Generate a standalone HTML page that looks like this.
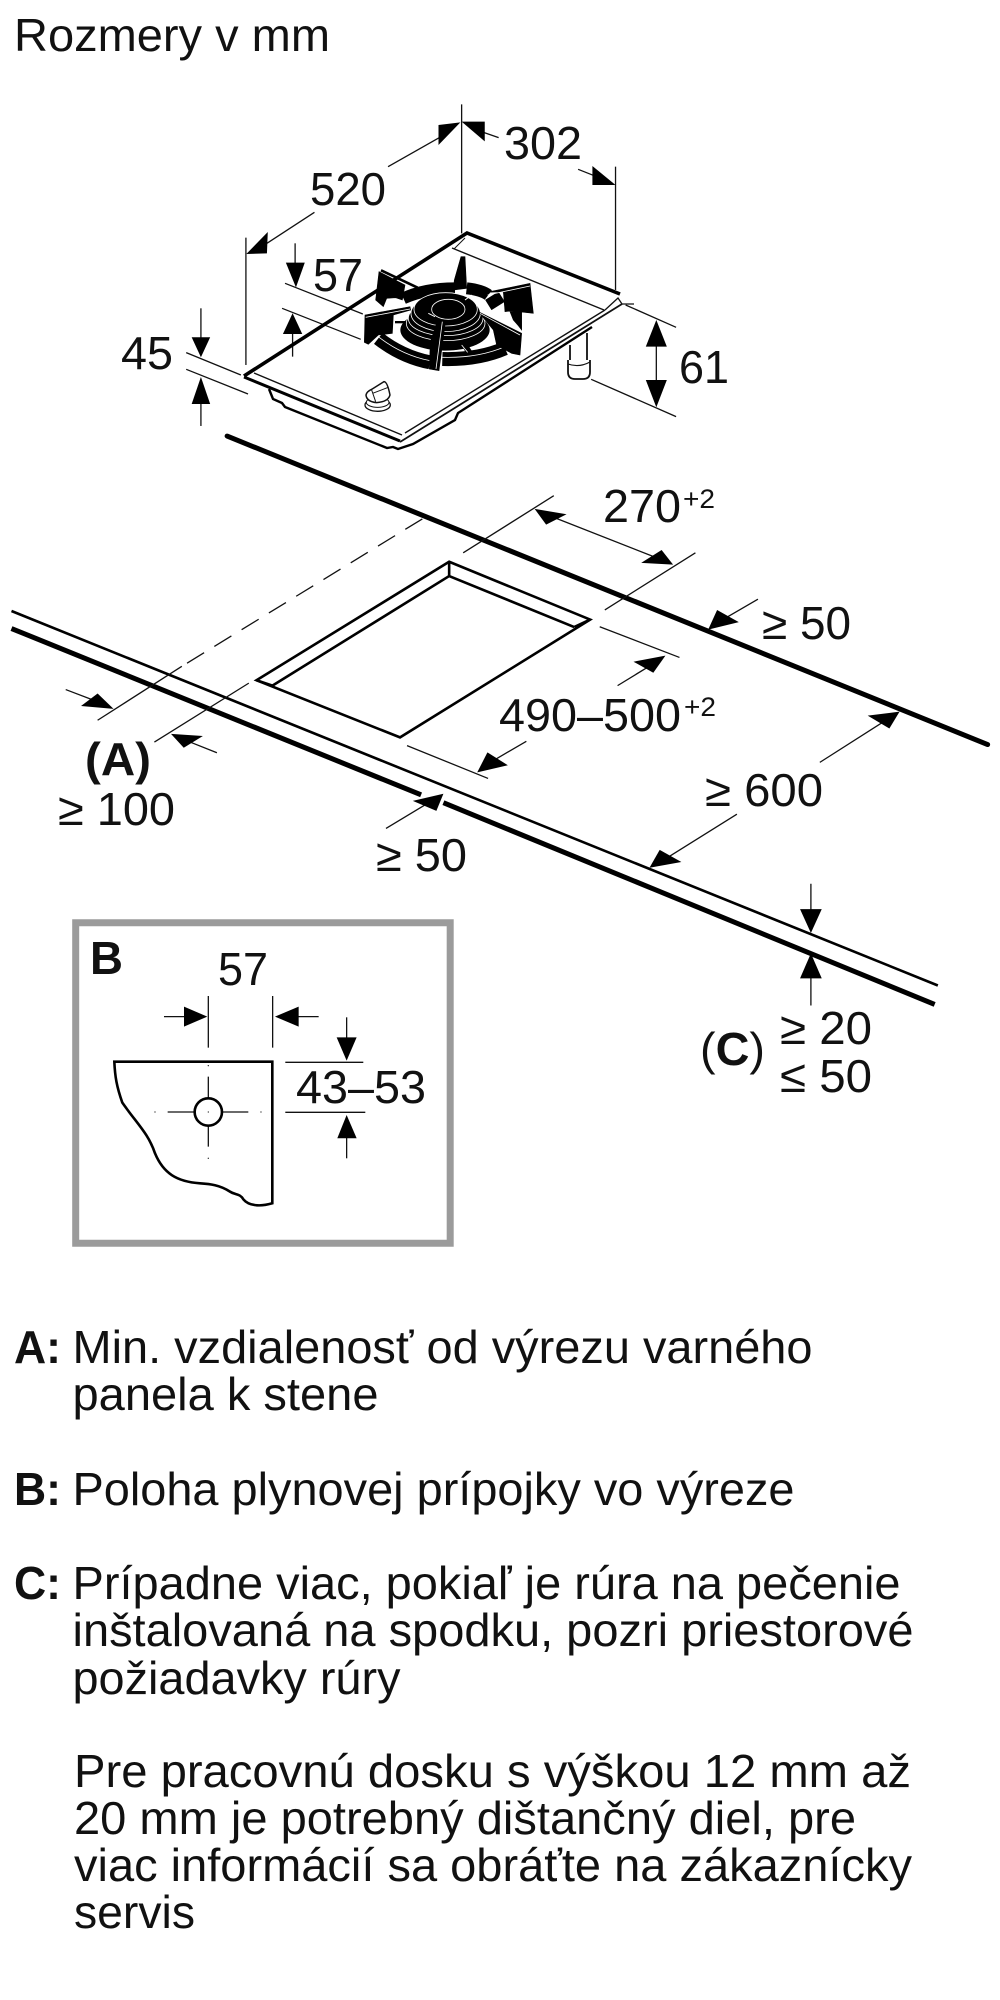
<!DOCTYPE html>
<html lang="sk"><head><meta charset="utf-8"><title>Rozmery v mm</title>
<style>
html,body{margin:0;padding:0;background:#fff}
svg{display:block}
text{font-family:"Liberation Sans",sans-serif;font-size:46px;fill:#111}
.b{font-weight:bold}
.s{font-size:27px}
line,polyline,path,polygon,ellipse,circle,rect{vector-effect:non-scaling-stroke}
.t line,.t polyline,.t path{stroke:#111;stroke-width:1.3;fill:none}
.a polygon{fill:#000;stroke:none}
.k polygon{fill:#000;stroke:#000;stroke-width:.6}
.e ellipse{fill:#000;stroke:#fff;stroke-width:.8}
</style></head><body>
<svg width="1000" height="2000" viewBox="0 0 1000 2000" xmlns="http://www.w3.org/2000/svg">
<rect width="1000" height="2000" fill="#fff"/>

<!-- Hob dims -->
<g transform="translate(100,90) scale(0.4205,0.3333)">
 <g class="t">
  <line x1="860" y1="43" x2="860" y2="430"/><line x1="347" y1="443" x2="347" y2="825"/><line x1="1226" y1="230" x2="1226" y2="600"/>
  <line x1="685" y1="230" x2="825" y2="130"/><line x1="397" y1="460" x2="510" y2="367"/>
  <line x1="900" y1="122" x2="948" y2="143"/><line x1="1137" y1="238" x2="1185" y2="262"/>
  <line x1="440" y1="580" x2="625" y2="672"/><line x1="433" y1="655" x2="620" y2="748"/>
  <line x1="464" y1="460" x2="464" y2="530"/><line x1="458" y1="720" x2="458" y2="800"/>
  <line x1="205" y1="788" x2="335" y2="855"/><line x1="205" y1="838" x2="352" y2="912"/>
  <line x1="240" y1="655" x2="240" y2="750"/><line x1="240" y1="930" x2="240" y2="1008"/>
  <line x1="1250" y1="645" x2="1370" y2="712"/><line x1="1168" y1="868" x2="1370" y2="980"/>
  <line x1="1323" y1="760" x2="1323" y2="880"/>
 </g>
 <g class="a">
  <polygon points="857,97 805,105 805,165"/><polygon points="348,492 397,490 399,426"/>
  <polygon points="860,95 915,95 915,154"/><polygon points="1226,285 1171,285 1171,228"/>
  <polygon points="442,518 487,518 466,592"/><polygon points="458,670 435,732 481,732"/>
  <polygon points="218,742 262,742 240,802"/><polygon points="240,861 218,942 262,942"/>
  <polygon points="1323,690 1298,770 1348,770"/><polygon points="1323,952 1298,870 1348,870"/>
 </g>
</g>

<!-- Hob body (page coordinates) -->
<polyline points="269,389 273,399 282,403 285,407 387,448 393,447 398,449 413,444 455,420 458,413 592,327" fill="none" stroke="#000" stroke-width="2.4"/>
<polyline points="244,376 467,233 620,294" fill="none" stroke="#000" stroke-width="3.6"/>
<line x1="244" y1="377" x2="400" y2="441" stroke="#000" stroke-width="3"/>
<line x1="254" y1="373" x2="402" y2="435" stroke="#111" stroke-width="1.4"/>
<line x1="400" y1="442" x2="622" y2="304" stroke="#111" stroke-width="1.8"/>
<line x1="405" y1="433" x2="605" y2="310" stroke="#111" stroke-width="1.4"/>
<line x1="452" y1="248" x2="604" y2="310" stroke="#111" stroke-width="1.4"/>
<polyline points="454,249 465,238" fill="none" stroke="#111" stroke-width="1"/>
<polyline points="605,310 618,298 622,304 634,304" fill="none" stroke="#111" stroke-width="1.3"/>
<!-- pipe -->
<path d="M570,345 V362 M587,333 V362" fill="none" stroke="#111" stroke-width="1.8"/>
<path d="M568,360 V372 Q568,379 575,379 H583 Q590,379 590,372 V360" fill="#fff" stroke="#111" stroke-width="1.8"/>
<path d="M568,364 Q579,368 590,362" fill="none" stroke="#111" stroke-width="1.1"/>

<!-- Knob, crop coordinates -->
<g transform="translate(230,360) scale(0.3333)">
 <ellipse cx="443" cy="135" rx="38" ry="19" fill="#fff" stroke="#111" stroke-width="1.3"/>
 <ellipse cx="443" cy="127" rx="34" ry="15" fill="#fff" stroke="#111" stroke-width="1"/>
 <path d="M408,105 Q410,95 425,88 L462,65 Q472,65 480,105 Q475,125 440,128 Q410,125 408,105 Z" fill="#fff" stroke="#111" stroke-width="1.5"/>
 <path d="M425,90 L437,125 M428,100 L475,82" fill="none" stroke="#111" stroke-width="1"/>
</g>

<!-- Burner, crop coordinates -->
<g transform="translate(355,255) scale(0.3333)">
 <path d="M70,250 Q140,305 225,322 M262,312 Q370,315 450,280" fill="none" stroke="#000" stroke-width="14"/>
 <path d="M70,250 Q140,305 225,322 M262,312 Q370,315 450,280" fill="none" stroke="#fff" stroke-width=".8" transform="translate(0,-5)"/>
 <path d="M145,130 Q210,100 300,100 M335,100 Q380,105 400,120 M400,150 L440,125" fill="none" stroke="#000" stroke-width="12"/>
 <path d="M120,198 H150 V205 H120 Z" fill="#000"/>
 <g class="e">
  <ellipse cx="270" cy="225" rx="134" ry="62" style="stroke:none"/>
  <ellipse cx="272" cy="205" rx="118" ry="52"/>
  <ellipse cx="272" cy="190" rx="112" ry="52"/>
  <ellipse cx="272" cy="175" rx="104" ry="55"/>
  <ellipse cx="272" cy="163" rx="95" ry="50"/>
  <ellipse cx="280" cy="163" rx="50" ry="30"/>
 </g>
 <path d="M330,135 L350,120 M220,175 L240,185" fill="none" stroke="#fff" stroke-width="1"/>
 <polygon points="320,270 338,268 352,290 335,298" fill="#000"/>
 <path d="M320,270 L338,292" fill="none" stroke="#fff" stroke-width=".8"/>
 <g class="k">
  <polygon points="72,50 150,90 142,135 122,128 95,130 85,155 62,135"/>
  <polygon points="30,180 165,155 167,165 115,180 112,235 70,240 40,268 28,262"/>
  <polygon points="295,105 298,75 318,5 330,5 335,100"/>
  <polygon points="395,112 525,85 535,175 470,168 450,170 445,110"/>
  <polygon points="465,170 500,168 500,225 490,212 475,195"/>
  <polygon points="370,170 500,235 495,300 470,295 425,270 415,225"/>
  <polygon points="248,195 272,195 252,347 223,342 226,260"/>
 </g>
 <line x1="78" y1="46" x2="188" y2="98" stroke="#000" stroke-width="2.6"/>
 <path d="M32,187 L165,162 M398,120 L525,93 M375,175 L495,240 M262,200 L243,342" fill="none" stroke="#fff" stroke-width=".8"/>
</g>

<!-- Worktop -->
<g transform="translate(0,460) scale(0.638,0.357)">
 <line x1="18" y1="472" x2="660" y2="938" stroke="#000" stroke-width="5"/>
 <line x1="695" y1="960" x2="1465" y2="1525" stroke="#000" stroke-width="5"/>
 <line x1="18" y1="423" x2="1470" y2="1472" stroke="#000" stroke-width="2.6"/>
 <line x1="356" y1="-67" x2="1548" y2="797" stroke="#000" stroke-width="5" stroke-linecap="round"/>
 <g fill="none" stroke="#000" stroke-width="2.6">
  <polygon points="704,285 925,447 627,777 402,617"/>
  <polyline points="427,632 704,325 900,468"/>
  <line x1="704" y1="285" x2="704" y2="325"/>
  <line x1="925" y1="447" x2="900" y2="468"/>
  <line x1="402" y1="617" x2="427" y2="632"/>
 </g>
 <line x1="662" y1="165" x2="285" y2="578" stroke="#111" stroke-width="1.3" stroke-dasharray="20 12"/>
 <g class="t">
  <line x1="285" y1="578" x2="153" y2="729"/><line x1="390" y1="625" x2="242" y2="790"/>
  <line x1="868" y1="100" x2="726" y2="260"/><line x1="1090" y1="260" x2="948" y2="420"/>
  <line x1="860" y1="155" x2="1035" y2="278"/>
  <line x1="1188" y1="390" x2="1130" y2="450"/>
  <line x1="940" y1="467" x2="1065" y2="553"/><line x1="968" y1="632" x2="1020" y2="575"/>
  <line x1="638" y1="800" x2="765" y2="892"/><line x1="825" y1="788" x2="775" y2="840"/>
  <line x1="1285" y1="847" x2="1385" y2="733"/><line x1="1155" y1="992" x2="1045" y2="1115"/>
  <line x1="103" y1="643" x2="150" y2="675"/><line x1="340" y1="820" x2="295" y2="788"/>
  <line x1="605" y1="1032" x2="670" y2="962"/>
  <line x1="1271" y1="1187" x2="1271" y2="1265"/><line x1="1271" y1="1445" x2="1271" y2="1528"/>
 </g>
 <g class="a">
  <polygon points="838,137 888,152 856,181"/><polygon points="1055,293 1005,288 1037,252"/>
  <polygon points="1110,475 1158,454 1124,420"/>
  <polygon points="1043,548 1024,596 993,565"/><polygon points="748,875 796,855 764,819"/>
  <polygon points="1410,705 1394,752 1360,716"/><polygon points="1018,1142 1068,1126 1034,1092"/>
  <polygon points="178,697 127,689 153,654"/><polygon points="268,767 318,773 288,806"/>
  <polygon points="695,935 684,983 647,955"/>
  <polygon points="1271,1325 1254,1258 1288,1258"/><polygon points="1271,1382 1254,1452 1288,1452"/>
 </g>
</g>

<!-- Box B -->
<rect x="75.7" y="922.7" width="374.5" height="320.5" fill="none" stroke="#9b9b9b" stroke-width="7"/>
<g transform="translate(60,910) scale(0.3333)">
 <g class="t">
  <line x1="445" y1="258" x2="445" y2="413"/><line x1="638" y1="258" x2="638" y2="413"/>
  <line x1="312" y1="320" x2="375" y2="320"/><line x1="712" y1="320" x2="776" y2="320"/>
  <line x1="676" y1="457" x2="910" y2="457"/><line x1="676" y1="607" x2="916" y2="607"/>
  <line x1="860" y1="322" x2="860" y2="385"/><line x1="860" y1="682" x2="860" y2="745"/>
  <line x1="445" y1="500" x2="445" y2="710"/><line x1="323" y1="606" x2="565" y2="606"/>
 </g>
 <g class="a">
  <polygon points="372,290 442,320 372,350"/><polygon points="645,320 716,290 716,350"/>
  <polygon points="830,382 890,382 860,452"/><polygon points="860,615 832,685 890,685"/>
 </g>
 <path d="M163,455 L637,455 L637,880 C610,888 570,892 550,868 C540,850 525,855 510,845 C480,825 450,822 420,820 C350,815 310,790 285,730 C265,670 230,640 187,578 C170,530 165,500 163,455 Z" fill="none" stroke="#000" stroke-width="2.6"/>
 <circle cx="445" cy="606" r="41" fill="#fff" stroke="#000" stroke-width="2.6"/>
 <g fill="#222">
  <circle cx="445" cy="467" r="2"/><circle cx="445" cy="745" r="2"/><circle cx="285" cy="606" r="2"/><circle cx="603" cy="606" r="2"/><circle cx="445" cy="606" r="2"/>
 </g>
</g>

<!-- Labels -->
<text x="14" y="51" textLength="316" lengthAdjust="spacingAndGlyphs">Rozmery v mm</text>
<text x="504" y="159" textLength="78" lengthAdjust="spacingAndGlyphs">302</text>
<text x="310" y="205" textLength="76" lengthAdjust="spacingAndGlyphs">520</text>
<text x="313" y="291" textLength="50" lengthAdjust="spacingAndGlyphs">57</text>
<text x="121" y="369" textLength="52" lengthAdjust="spacingAndGlyphs">45</text>
<text x="679" y="383" textLength="50" lengthAdjust="spacingAndGlyphs">61</text>
<text x="603" y="522" textLength="78" lengthAdjust="spacingAndGlyphs">270</text>
<text class="s" x="683" y="508" textLength="32" lengthAdjust="spacingAndGlyphs">+2</text>
<text x="762" y="639" textLength="89" lengthAdjust="spacingAndGlyphs">≥ 50</text>
<text x="499" y="731" textLength="182" lengthAdjust="spacingAndGlyphs">490–500</text>
<text class="s" x="684" y="716" textLength="32" lengthAdjust="spacingAndGlyphs">+2</text>
<text class="b" x="85" y="775" textLength="66" lengthAdjust="spacingAndGlyphs">(A)</text>
<text x="58" y="825" textLength="117" lengthAdjust="spacingAndGlyphs">≥ 100</text>
<text x="376" y="871" textLength="91" lengthAdjust="spacingAndGlyphs">≥ 50</text>
<text x="705" y="806" textLength="118" lengthAdjust="spacingAndGlyphs">≥ 600</text>
<text class="b" x="90" y="974" textLength="33" lengthAdjust="spacingAndGlyphs">B</text>
<text x="218" y="985" textLength="50" lengthAdjust="spacingAndGlyphs">57</text>
<text x="296" y="1103" textLength="130" lengthAdjust="spacingAndGlyphs">43–53</text>
<text x="700" y="1065" textLength="65" lengthAdjust="spacingAndGlyphs">(<tspan class="b">C</tspan>)</text>
<text x="780" y="1044" textLength="92" lengthAdjust="spacingAndGlyphs">≥ 20</text>
<text x="780" y="1092" textLength="92" lengthAdjust="spacingAndGlyphs">≤ 50</text>

<text class="b" x="14" y="1363" textLength="47" lengthAdjust="spacingAndGlyphs">A:</text>
<text x="72.5" y="1363" textLength="740" lengthAdjust="spacingAndGlyphs">Min. vzdialenosť od výrezu varného</text>
<text x="72.5" y="1410" textLength="306" lengthAdjust="spacingAndGlyphs">panela k stene</text>
<text class="b" x="14" y="1505" textLength="47" lengthAdjust="spacingAndGlyphs">B:</text>
<text x="72.5" y="1505" textLength="722" lengthAdjust="spacingAndGlyphs">Poloha plynovej prípojky vo výreze</text>
<text class="b" x="14" y="1599" textLength="47" lengthAdjust="spacingAndGlyphs">C:</text>
<text x="72.5" y="1599" textLength="828" lengthAdjust="spacingAndGlyphs">Prípadne viac, pokiaľ je rúra na pečenie</text>
<text x="72.5" y="1646" textLength="841" lengthAdjust="spacingAndGlyphs">inštalovaná na spodku, pozri priestorové</text>
<text x="72.5" y="1694" textLength="328" lengthAdjust="spacingAndGlyphs">požiadavky rúry</text>
<text x="74" y="1787" textLength="837" lengthAdjust="spacingAndGlyphs">Pre pracovnú dosku s výškou 12 mm až</text>
<text x="74" y="1834" textLength="782" lengthAdjust="spacingAndGlyphs">20 mm je potrebný dištančný diel, pre</text>
<text x="74" y="1881" textLength="838" lengthAdjust="spacingAndGlyphs">viac informácií sa obráťte na zákaznícky</text>
<text x="74" y="1928" textLength="121" lengthAdjust="spacingAndGlyphs">servis</text>
</svg>
</body></html>
